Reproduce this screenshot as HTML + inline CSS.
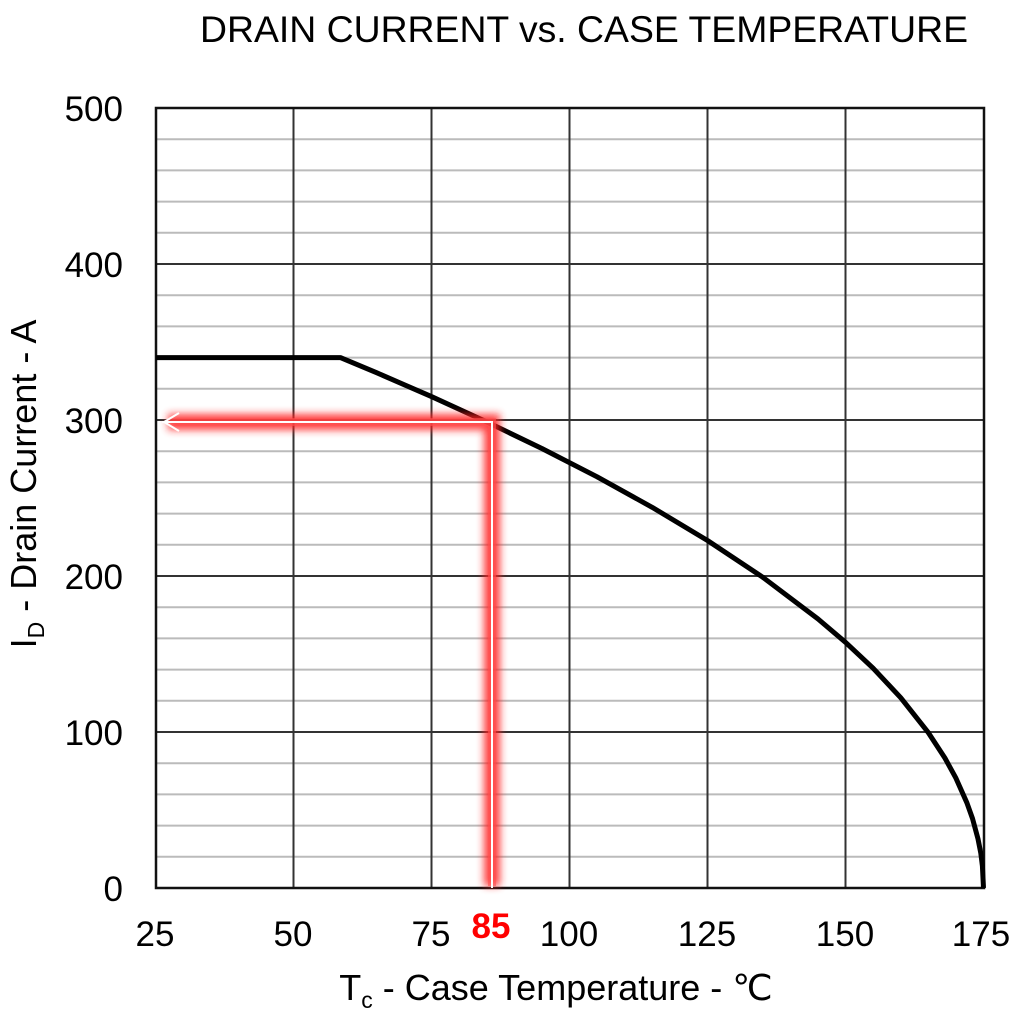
<!DOCTYPE html>
<html><head><meta charset="utf-8"><style>
html,body{margin:0;padding:0;background:#fff;}
svg{display:block;}
text{font-family:"Liberation Sans",Arial,sans-serif;fill:#000;}
</style></head><body>
<svg width="1024" height="1020" viewBox="0 0 1024 1020" xmlns="http://www.w3.org/2000/svg">
<defs>
<filter id="glow" x="-20%" y="-20%" width="140%" height="140%"><feGaussianBlur stdDeviation="4"/></filter>
</defs>
<text x="584" y="42" font-size="37" text-anchor="middle" textLength="768" lengthAdjust="spacingAndGlyphs">DRAIN CURRENT vs. CASE TEMPERATURE</text>
<g stroke="#bbb" stroke-width="2">
<line x1="156" x2="984" y1="139.2" y2="139.2"/><line x1="156" x2="984" y1="170.4" y2="170.4"/><line x1="156" x2="984" y1="201.6" y2="201.6"/><line x1="156" x2="984" y1="232.8" y2="232.8"/>
<line x1="156" x2="984" y1="295.2" y2="295.2"/><line x1="156" x2="984" y1="326.4" y2="326.4"/><line x1="156" x2="984" y1="357.6" y2="357.6"/><line x1="156" x2="984" y1="388.8" y2="388.8"/>
<line x1="156" x2="984" y1="451.2" y2="451.2"/><line x1="156" x2="984" y1="482.4" y2="482.4"/><line x1="156" x2="984" y1="513.6" y2="513.6"/><line x1="156" x2="984" y1="544.8" y2="544.8"/>
<line x1="156" x2="984" y1="607.2" y2="607.2"/><line x1="156" x2="984" y1="638.4" y2="638.4"/><line x1="156" x2="984" y1="669.6" y2="669.6"/><line x1="156" x2="984" y1="700.8" y2="700.8"/>
<line x1="156" x2="984" y1="763.2" y2="763.2"/><line x1="156" x2="984" y1="794.4" y2="794.4"/><line x1="156" x2="984" y1="825.6" y2="825.6"/><line x1="156" x2="984" y1="856.8" y2="856.8"/>
</g>
<g stroke="#333" stroke-width="2">
<line x1="156" x2="984" y1="264" y2="264"/><line x1="156" x2="984" y1="420" y2="420"/><line x1="156" x2="984" y1="576" y2="576"/><line x1="156" x2="984" y1="732" y2="732"/>
<line x1="293.5" x2="293.5" y1="108" y2="888"/><line x1="431.5" x2="431.5" y1="108" y2="888"/><line x1="569.5" x2="569.5" y1="108" y2="888"/><line x1="707.5" x2="707.5" y1="108" y2="888"/><line x1="845.5" x2="845.5" y1="108" y2="888"/>
</g>
<rect x="156" y="108" width="828" height="780" fill="none" stroke="#111" stroke-width="2.5"/>
<polyline fill="none" stroke="#000" stroke-width="5" stroke-linejoin="round" points="156,357.6 340.4,357.6 376.3,372.6 431.5,396.6 486.7,421.9 541.9,448.5 597.1,476.8 652.3,507.4 707.5,540.5 762.7,577.2 817.9,618.9 845.5,642.3 873.1,668.2 900.7,697.7 928.3,732.6 944.9,758 955.9,778.1 966.9,802.8 972.5,818.5 978,838.9 980.8,853.2 982.4,866 983.5,888"/>
<g filter="url(#glow)" stroke="#ff2020" stroke-width="16" fill="none" opacity="0.85">
<polyline points="168,422 492,422 492,886"/>
</g>
<g stroke="#ff5050" stroke-width="8" fill="none" opacity="0.6"><polyline points="168,422 492,422 492,886"/></g>
<g stroke="#fff" stroke-width="2" fill="none">
<polyline points="162,422 492,422 492,888"/>
<polyline points="179,413 164,422 179,431"/>
</g>
<g font-size="35" text-anchor="end">
<text x="123" y="121">500</text><text x="123" y="277">400</text><text x="123" y="433">300</text><text x="123" y="589">200</text><text x="123" y="745">100</text><text x="123" y="901">0</text>
</g>
<g font-size="35" text-anchor="middle">
<text x="155" y="946">25</text><text x="293" y="946">50</text><text x="431" y="946">75</text><text x="569" y="946">100</text><text x="707" y="946">125</text><text x="845" y="946">150</text><text x="981" y="946">175</text>
</g>
<text x="491" y="938" font-size="35" font-weight="bold" text-anchor="middle" style="fill:#f00">85</text>
<text x="556" y="1000" font-size="36" text-anchor="middle">T<tspan font-size="23" dy="8">c</tspan><tspan dy="-8"> - Case Temperature - ℃</tspan></text>
<text transform="translate(36,484) rotate(-90)" font-size="36" text-anchor="middle">I<tspan font-size="23" dy="8">D</tspan><tspan dy="-8"> - Drain Current - A</tspan></text>
</svg>
</body></html>
